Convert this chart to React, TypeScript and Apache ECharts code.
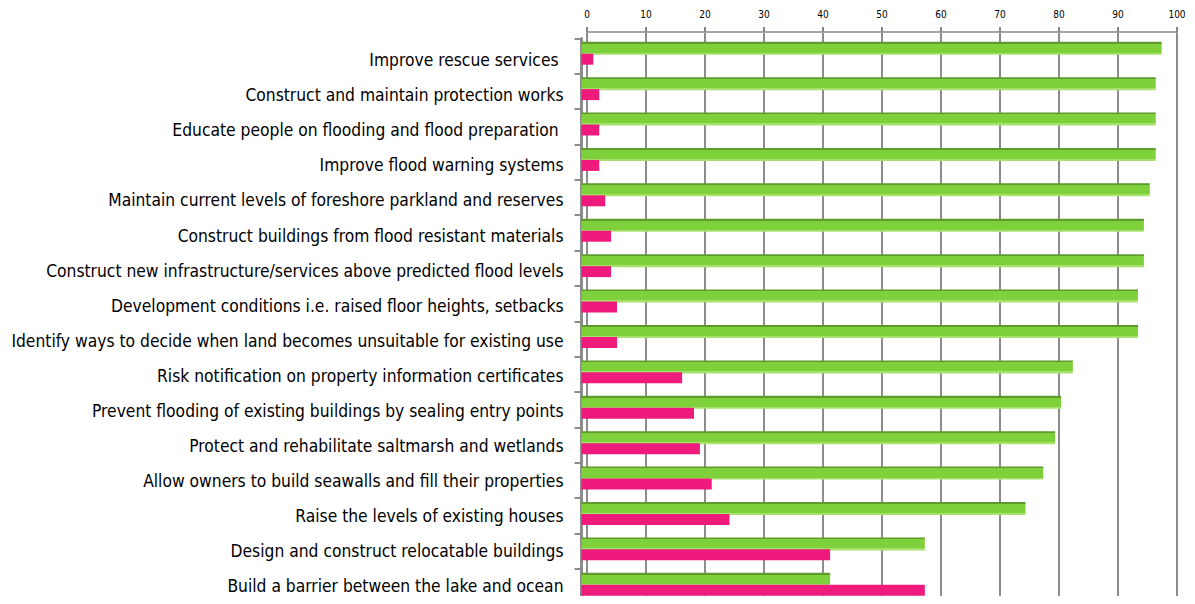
import React, { useEffect, useRef } from "react";
import * as echarts from "echarts";

const categories = [
  "Improve rescue services ",
  "Construct and maintain protection works",
  "Educate people on flooding and flood preparation ",
  "Improve flood warning systems",
  "Maintain current levels of foreshore parkland and reserves",
  "Construct buildings from flood resistant materials",
  "Construct new infrastructure/services above predicted flood levels",
  "Development conditions i.e. raised floor heights, setbacks",
  "Identify ways to decide when land becomes unsuitable for existing use",
  "Risk notification on property information certificates",
  "Prevent flooding of existing buildings by sealing entry points",
  "Protect and rehabilitate saltmarsh and wetlands",
  "Allow owners to build seawalls and fill their properties",
  "Raise the levels of existing houses",
  "Design and construct relocatable buildings",
  "Build a barrier between the lake and ocean",
];
const supportValues = [98, 97, 97, 97, 96, 95, 95, 94, 94, 83, 81, 80, 78, 75, 58, 42];
const opposeValues = [2, 3, 3, 3, 4, 5, 5, 6, 6, 17, 19, 20, 22, 25, 42, 58];
const xTicks = [0, 100, 10];

export default function App() {
  const ref = useRef<HTMLDivElement>(null);
  useEffect(() => {
    if (!ref.current) return;
    const chart = echarts.init(ref.current, undefined, { renderer: "svg" });
    const green = new echarts.graphic.LinearGradient(0, 0, 0, 1, [
      { offset: 0, color: "#5e9a2c" },
      { offset: 0.14, color: "#5e9a2c" },
      { offset: 0.14, color: "#7fd13b" },
      { offset: 0.84, color: "#7fd13b" },
      { offset: 0.84, color: "#a8e06e" },
      { offset: 1, color: "#a8e06e" },
    ]);
    const font = "'Liberation Sans Narrow', 'Arial Narrow', 'DejaVu Sans Condensed', 'Roboto Condensed', sans-serif";
    const hiddenX = (gridIndex: number) => ({ gridIndex, type: "value", min: 0, max: 100, show: false });
    chart.setOption({
      animation: false,
      backgroundColor: "#ffffff",
      grid: [
        { left: 587, right: 18, top: 32, bottom: 0, containLabel: false },
        { left: 581.5, right: 21.5, top: 35.5, bottom: 2, containLabel: false },
        { left: 581.5, right: 21.5, top: 38.5, bottom: -1, containLabel: false },
        { left: 581.5, right: 21.5, top: 42.5, bottom: -5, containLabel: false },
      ],
      xAxis: [
        {
          gridIndex: 0,
          type: "value",
          position: "top",
          min: xTicks[0],
          max: xTicks[1],
          interval: xTicks[2],
          axisLine: { show: true, lineStyle: { color: "#a6a6a6", width: 2 } },
          axisTick: { show: true, length: 5, lineStyle: { color: "#888888", width: 2 } },
          axisLabel: { fontSize: 10, color: "#000", fontFamily: font, margin: 13 },
          splitLine: { show: true, lineStyle: { color: "#8c8c8c", width: 2 } },
        },
        hiddenX(1),
        hiddenX(2),
        hiddenX(3),
      ],
      yAxis: [
        { gridIndex: 0, type: "category", data: categories, inverse: true, show: false },
        { gridIndex: 1, type: "category", data: categories, inverse: true, show: false },
        {
          gridIndex: 2,
          type: "category",
          data: categories,
          inverse: true,
          axisLine: { show: true, lineStyle: { color: "#8c8c8c", width: 3 } },
          axisTick: { show: true, length: 7, lineStyle: { color: "#8c8c8c", width: 2 } },
          axisLabel: { show: false },
          splitLine: { show: false },
        },
        {
          gridIndex: 3,
          type: "category",
          data: categories,
          inverse: true,
          axisLine: { show: false },
          axisTick: { show: false },
          axisLabel: {
            fontSize: 17.3,
            color: "#000",
            fontFamily: font,
            margin: 18,
          },
          splitLine: { show: false },
        },
      ],
      series: [
        {
          name: "Support",
          type: "bar",
          xAxisIndex: 1,
          yAxisIndex: 1,
          data: supportValues,
          barWidth: 13,
          barGap: "-8%",
          itemStyle: { color: green },
        },
        {
          name: "Oppose",
          type: "bar",
          xAxisIndex: 1,
          yAxisIndex: 1,
          data: opposeValues,
          barWidth: 11,
          itemStyle: { color: "#ee1a7c" },
        },
      ],
    });
    return () => chart.dispose();
  }, []);
  return <div ref={ref} style={{ width: 1195, height: 604, margin: -8 }} />;
}
